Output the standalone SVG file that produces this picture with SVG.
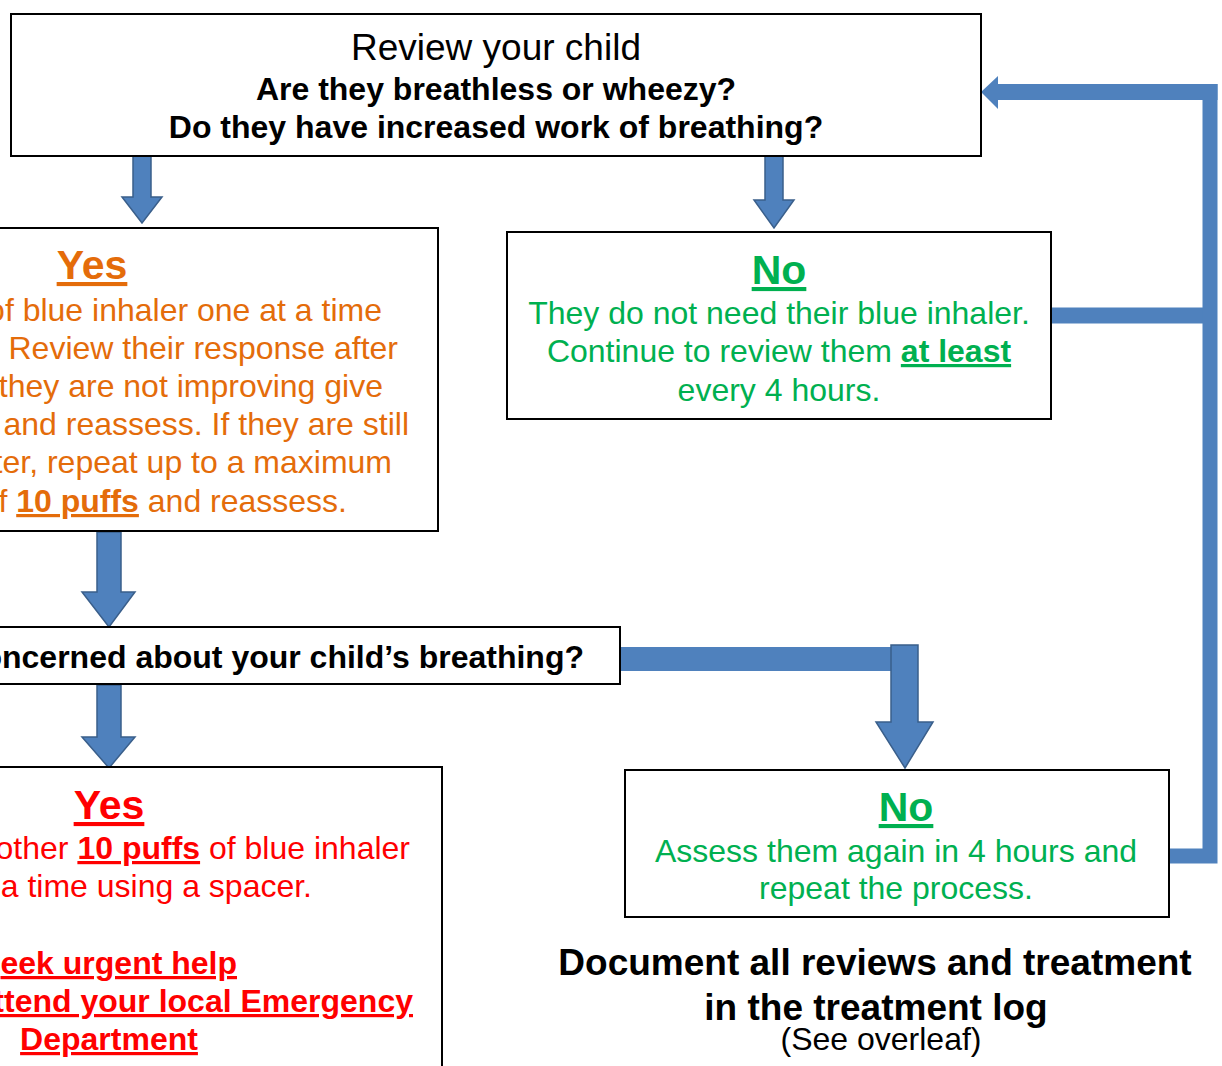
<svg xmlns="http://www.w3.org/2000/svg" width="1222" height="1066" viewBox="0 0 1222 1066">
<style>
.box{fill:#fff;stroke:#000;stroke-width:2}
.arr{fill:#4F81BD;stroke:#3A5F8B;stroke-width:1.5;stroke-linejoin:miter}
.bar{fill:none;stroke:#4F81BD;stroke-linejoin:miter;stroke-linecap:butt}
text{font-family:"Liberation Sans",Arial,sans-serif;font-size:32px}
.k{fill:#000}.o{fill:#E46C0A}.g{fill:#00B050}.r{fill:#FF0000}
.b{font-weight:bold}.u{text-decoration:underline}
.c{text-anchor:middle}.e{text-anchor:end}
.h{font-size:41px;font-weight:bold;text-decoration:underline}
</style>
<rect width="1222" height="1066" fill="#fff"/>
<g id="connectors">
  <polygon class="arr" points="133,156 151,156 151,197 162,197 142,223 122,197 133,197"/>
  <polygon class="arr" points="765,156 783,156 783,200 794,200 774,228 754,200 765,200"/>
  <polygon class="arr" points="97,532 121,532 121,592 135,592 109,627 82,592 97,592"/>
  <polygon class="arr" points="97,685 121,685 121,737 135,737 109,768 82,737 97,737"/>
  <rect x="620" y="647" width="298" height="24" fill="#4F81BD"/>
  <polygon class="arr" points="891,645 918,645 918,722 933,722 905,768 876,722 891,722"/>
  <path class="bar" stroke-width="16" d="M1051,315.5 H1210"/>
  <path class="bar" stroke-width="15" d="M1169,856 H1210 V84"/>
  <path class="bar" stroke-width="16" d="M1217.5,92 H996"/>
  <polygon fill="#4F81BD" points="981,92 998,76 998,109"/>
</g>
<g id="node-review">
  <rect class="box" x="11" y="14" width="970" height="142"/>
  <text class="k c" x="496" y="60" style="font-size:37px">Review your child</text>
  <text class="k c b" x="496" y="100">Are they breathless or wheezy?</text>
  <text class="k c b" x="496" y="138">Do they have increased work of breathing?</text>
</g>
<g id="node-yes1">
  <rect class="box" x="-10" y="228" width="448" height="303"/>
  <text class="o c h" x="92" y="279">Yes</text>
  <text class="o e" x="382" y="321">of blue inhaler one at a time</text>
  <text class="o e" x="398" y="359">Review their response after</text>
  <text class="o e" x="383" y="397">they are not improving give</text>
  <text class="o e" x="409" y="435">and reassess. If they are still</text>
  <text class="o e" x="392" y="473">ter, repeat up to a maximum</text>
  <text class="o e" x="347" y="512">f <tspan class="b u">10 puffs</tspan> and reassess.</text>
</g>
<g id="node-no1">
  <rect class="box" x="507" y="232" width="544" height="187"/>
  <text class="g c h" x="779" y="284">No</text>
  <text class="g c" x="779" y="324">They do not need their blue inhaler.</text>
  <text class="g c" x="779" y="362">Continue to review them <tspan class="b u">at least</tspan></text>
  <text class="g c" x="779" y="401">every 4 hours.</text>
</g>
<g id="node-concerned">
  <rect class="box" x="-10" y="627" width="630" height="57"/>
  <text class="k e b" x="584" y="668">oncerned about your child’s breathing?</text>
</g>
<g id="node-yes2">
  <rect class="box" x="-10" y="767" width="452" height="320"/>
  <text class="r c h" x="109" y="819">Yes</text>
  <text class="r e" x="410" y="859">other <tspan class="b u">10 puffs</tspan> of blue inhaler</text>
  <text class="r e" x="312" y="897">a time using a spacer.</text>
  <text class="r e b u" x="237" y="974">eek urgent help</text>
  <text class="r e b u" x="413" y="1012">ttend your local Emergency</text>
  <text class="r c b u" x="109" y="1050">Department</text>
</g>
<g id="node-no2">
  <rect class="box" x="625" y="770" width="544" height="147"/>
  <text class="g c h" x="906" y="821">No</text>
  <text class="g c" x="896" y="862">Assess them again in 4 hours and</text>
  <text class="g c" x="896" y="899">repeat the process.</text>
</g>
<g id="note">
  <text class="k c b" x="875" y="975" style="font-size:37px">Document all reviews and treatment</text>
  <text class="k c b" x="876" y="1020" style="font-size:37px">in the treatment log</text>
  <text class="k c" x="881" y="1050">(See overleaf)</text>
</g>
</svg>
